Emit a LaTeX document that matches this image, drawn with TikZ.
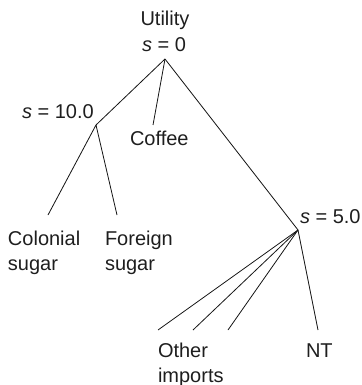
\documentclass[tikz,border=0pt]{standalone}
\usepackage{fontspec}
\setmainfont{Liberation Sans}
\begin{document}
\begin{tikzpicture}[x=1pt,y=-1pt,
  lbl/.style={inner sep=0pt,outer sep=0pt,text={rgb,255:red,30;green,30;blue,30},font=\fontsize{20}{25}\selectfont},
  branch/.style={draw={rgb,255:red,20;green,20;blue,20},line width=0.8pt}]
\path[use as bounding box] (0,0) rectangle (361,385);
% labels
\node[lbl,anchor=base] (utility) at (165,26) {Utility};
\node[lbl,anchor=base] (szero) at (164,52) {\textit{s} = 0};
\node[lbl,anchor=base west] (sten) at (22,118) {\textit{s} = 10.0};
\node[lbl,anchor=base west] (coffee) at (130,145) {Coffee};
\node[lbl,anchor=base west,align=left] (colonial) at (8,270) {Colonial\\sugar};
\node[lbl,anchor=base west,align=left] (foreign) at (105,270) {Foreign\\sugar};
\node[lbl,anchor=base west] (sfive) at (300,223) {\textit{s} = 5.0};
\node[lbl,anchor=base west,align=left] (other) at (158,382) {Other\\imports};
\node[lbl,anchor=base west] (nt) at (306,357) {NT};
% branch points and leaf ends
\coordinate (root) at (165,59);
\coordinate (nten) at (96,125);
\coordinate (nfive) at (298,230);
\coordinate (ecoffee) at (153,125);
\coordinate (ecolonial) at (48,215);
\coordinate (eforeign) at (117,215);
\coordinate (eotherA) at (158,330);
\coordinate (eotherB) at (193,330);
\coordinate (eotherC) at (228,330);
\coordinate (ent) at (318,330);
% tree
\draw[branch] (root) -- (nten);
\draw[branch] (root) -- (ecoffee);
\draw[branch] (root) -- (nfive);
\draw[branch] (nten) -- (ecolonial);
\draw[branch] (nten) -- (eforeign);
\foreach \e in {eotherA,eotherB,eotherC,ent}
  \draw[branch] (nfive) -- (\e);
\end{tikzpicture}
\end{document}
